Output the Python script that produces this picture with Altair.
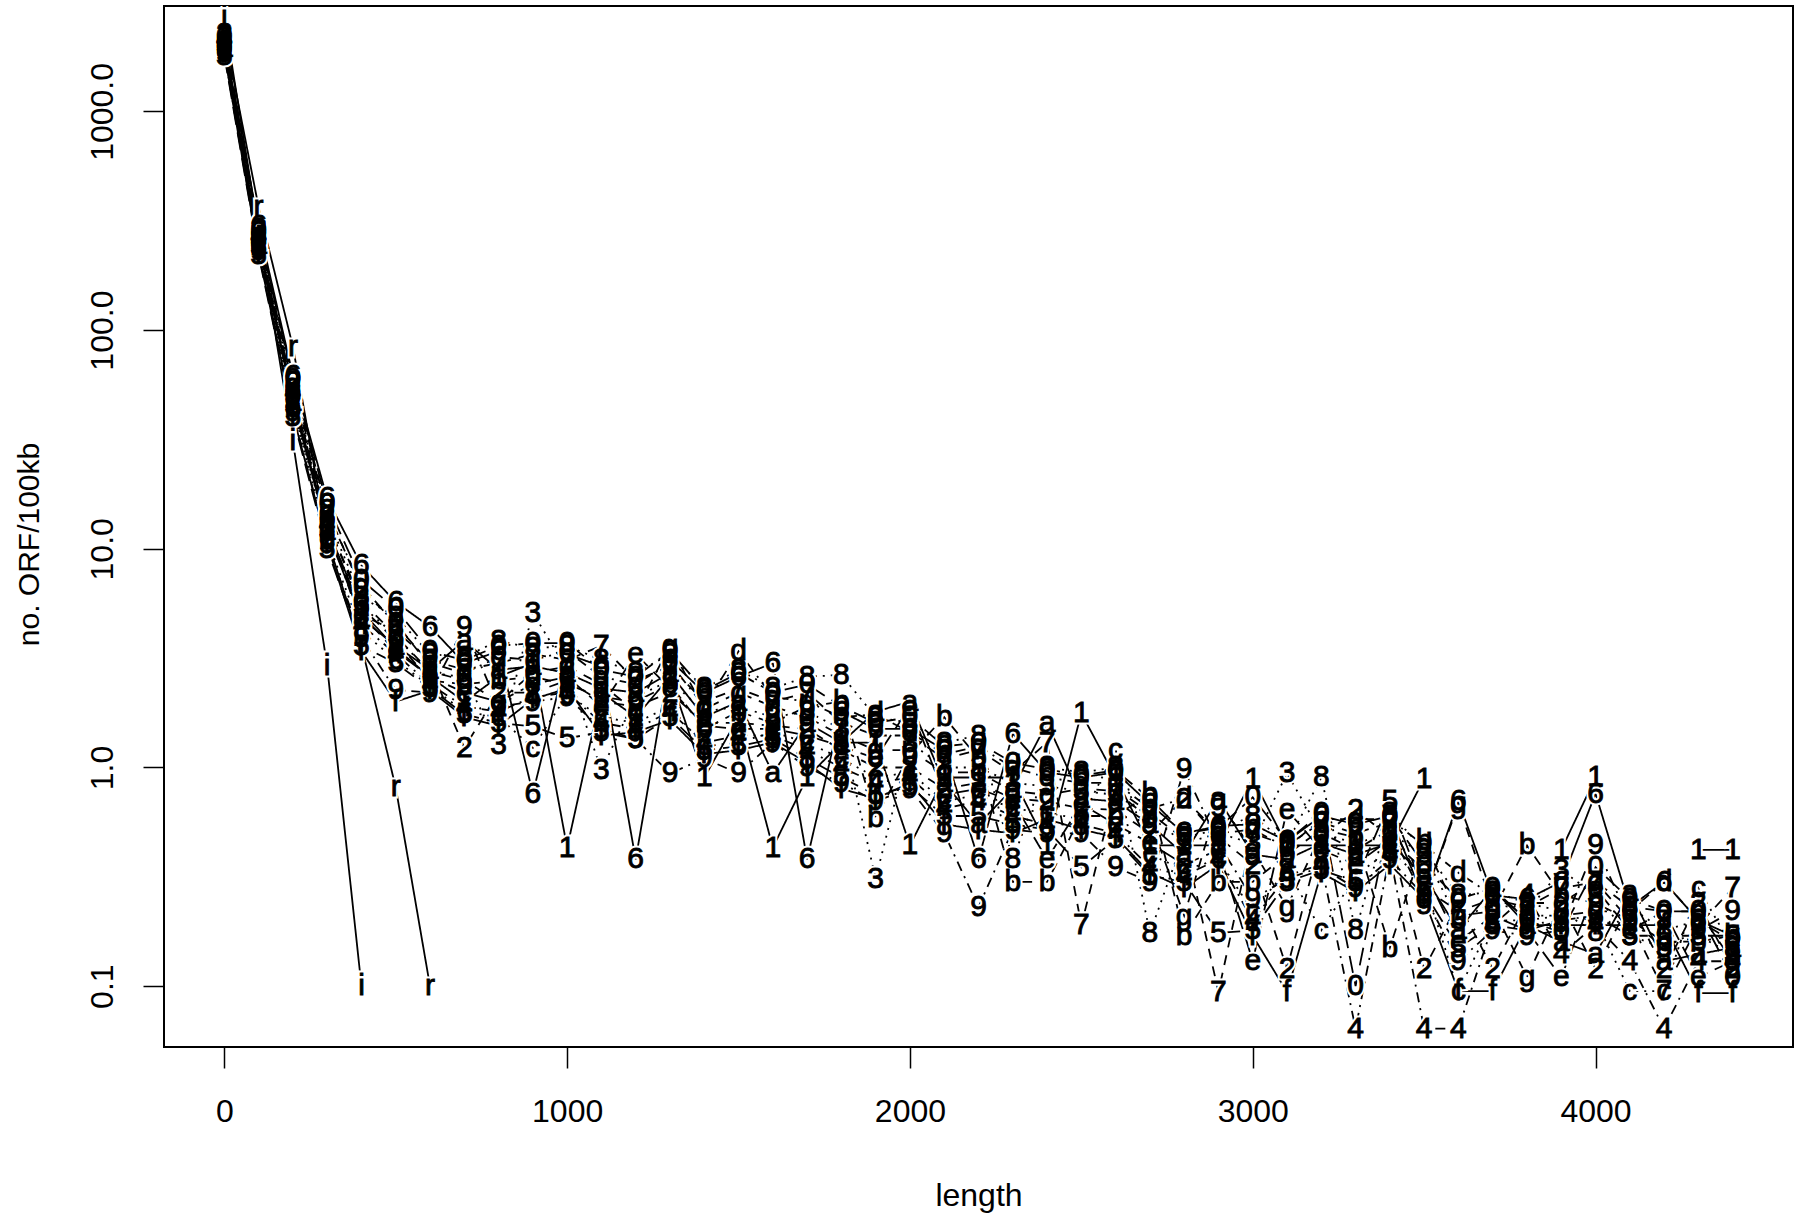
import altair as alt
import pandas as pd

# ORF length bins (x axis)
X_VALUES = [0, 100, 200, 300, 400, 500, 600, 700, 800, 900,
            1000, 1100, 1200, 1300, 1400, 1500, 1600, 1700, 1800, 1900,
            2000, 2100, 2200, 2300, 2400, 2500, 2600, 2700, 2800, 2900,
            3000, 3100, 3200, 3300, 3400, 3500, 3600, 3700, 3800, 3900,
            4000, 4100, 4200, 4300, 4400]

S1 = [1950, 255, 48, 12.5, 5.2, 3.5, 2.6, 2.0, 2.6, 3.0,
      0.43, 2.2, 1.7, 2.6, 0.9, 1.7, 0.43, 0.9, 1.3, 1.3,
      0.44, 0.9, 0.9, 0.9, 0.44, 1.77, 0.9, 0.44, 0.44, 0.44,
      0.89, 0.44, 0.44, 0.44, 0.44, 0.89, None, None, None, 0.42,
      0.9, None, None, 0.42, 0.42]
S2 = [2250, 290, 58, 15, 6.5, 4.6, 2.9, 1.23, 2.2, 2.2,
      2.5, 2.0, 1.9, 2.2, 1.6, 1.6, 1.55, 1.5, 1.2, 1.0,
      1.0, 0.8, 0.85, 0.72, 0.7, 0.65, 0.64, 0.5, 0.72, 0.48,
      0.36, 0.12, 0.48, 0.64, 0.48, 0.12, 0.24, 0.12, 0.24, 0.24,
      0.12, 0.24, 0.12, 0.24, 0.12]
S3 = [2000, 240, 45, 12, 5.5, 4.0, 2.7, 2.6, 1.27, 5.1,
      2.8, 0.97, 2.1, 2.5, 1.8, 1.9, 1.7, 1.8, 1.5, 0.31,
      1.3, 1.0, 1.0, 0.85, 0.82, 0.78, 0.75, 0.6, 0.45, 0.5,
      0.45, 0.94, 0.5, 0.45, 0.5, 0.4, 0.2, 0.24, 0.22, 0.34,
      0.26, 0.17, 0.15, 0.17, 0.14]
S4 = [2150, 270, 52, 13, 4.5, 3.3, 2.4, 1.9, 1.8, 2.1,
      2.2, 1.6, 1.5, 1.8, 1.3, 1.4, 1.4, 1.2, 1.0, 0.85,
      0.9, 0.65, 0.7, 0.6, 0.55, 0.55, 0.5, 0.35, 0.32, 0.38,
      0.2, 0.32, 0.36, 0.064, 0.4, 0.064, 0.064, 0.19, 0.26, 0.14,
      0.19, 0.13, 0.064, 0.13, 0.13]
S5 = [1800, 220, 40, 10, 3.6, 3.0, 2.3, 1.75, 1.6, 1.54,
      1.36, 1.45, 1.35, 1.7, 1.2, 1.25, 1.35, 1.1, 0.9, 0.75,
      0.82, 0.6, 0.6, 0.55, 0.52, 0.35, 0.47, 0.32, 0.3, 0.175,
      0.18, 0.3, 0.34, 0.3, 0.7, 0.27, 0.15, 0.19, 0.18, 0.2,
      0.21, 0.17, 0.17, 0.17, 0.17]
S6 = [2100, 300, 62, 17, 8.4, 5.7, 4.4, 3.0, 3.4, 0.76,
      3.3, 2.9, 0.38, 3.1, 2.2, 2.6, 3.0, 0.38, 1.8, 1.5,
      1.5, 1.2, 0.38, 1.43, 0.95, 0.9, 0.95, 0.68, 0.5, 0.54,
      0.55, 0.46, 0.6, 0.55, 0.6, 0.25, 0.7, 0.26, 0.25, 0.3,
      0.76, 0.23, 0.3, 0.2, 0.17]
S7 = [1900, 250, 50, 12.5, 5.0, 4.2, 3.1, 2.8, 3.0, 3.3,
      3.1, 3.6, 2.5, 2.9, 2.0, 2.3, 2.0, 2.2, 1.6, 1.4,
      1.4, 1.1, 1.2, 0.95, 1.3, 0.19, 0.8, 0.62, 0.47, 0.094,
      0.5, 0.44, 0.56, 0.5, 0.56, 0.28, 0.22, 0.25, 0.23, 0.28,
      0.3, 0.2, 0.095, 0.19, 0.28]
S8 = [2050, 260, 54, 14, 6.0, 4.9, 3.3, 3.2, 3.8, 3.5,
      3.6, 3.1, 2.7, 3.3, 2.3, 2.8, 2.3, 2.6, 2.65, 1.7,
      1.6, 1.3, 1.4, 0.38, 1.0, 0.95, 1.0, 0.175, 0.48, 0.52,
      0.6, 0.45, 0.9, 0.18, 0.62, 0.42, 0.26, 0.27, 0.24, 0.22,
      0.176, 0.23, 0.18, 0.2, 0.15]
S9 = [1850, 230, 42, 10.5, 3.9, 2.26, 2.2, 4.4, 1.9, 2.0,
      2.1, 1.5, 1.35, 0.94, 1.1, 0.94, 1.3, 1.0, 0.85, 0.7,
      0.8, 0.5, 0.23, 0.52, 0.5, 0.5, 0.35, 0.3, 0.98, 0.45,
      0.25, 0.31, 0.35, 0.28, 0.38, 0.26, 0.13, 0.18, 0.17, 0.18,
      0.44, 0.2, 0.15, 0.18, 0.22]
S0 = [2200, 280, 60, 16, 7.2, 5.3, 3.4, 3.1, 3.6, 3.7,
      3.7, 2.8, 2.6, 3.4, 2.25, 2.7, 2.2, 2.4, 1.9, 1.6,
      1.7, 1.25, 1.3, 1.05, 0.98, 0.92, 0.97, 0.72, 0.5, 0.53,
      0.73, 0.46, 0.62, 0.1, 0.6, 0.36, 0.25, 0.28, 0.2, 0.176,
      0.35, 0.25, 0.22, 0.22, 0.11]
SA = [1950, 245, 47, 12, 4.8, 3.6, 2.8, 3.8, 2.8, 2.9,
      2.7, 2.3, 2.2, 2.7, 1.7, 2.0, 0.94, 1.6, 1.3, 1.8,
      2.0, 0.85, 0.55, 0.8, 1.6, 0.72, 0.7, 0.55, 0.4, 0.72,
      0.4, 0.38, 0.45, 0.4, 0.45, 0.32, 0.18, 0.28, 0.19, 0.16,
      0.14, 0.27, 0.13, 0.14, 0.15]
SB = [2000, 265, 51, 13.5, 5.4, 3.8, 2.5, 2.4, 2.5, 2.6,
      2.4, 2.1, 2.0, 2.4, 1.5, 1.8, 1.6, 1.9, 2.0, 0.59,
      1.15, 1.7, 1.1, 0.3, 0.3, 0.6, 0.6, 0.76, 0.17, 0.3,
      0.3, 0.4, 0.52, 0.48, 0.15, 0.46, 0.21, 0.22, 0.44, 0.26,
      0.24, 0.2, 0.16, 0.16, 0.17]
SC = [1900, 235, 44, 11, 4.2, 3.1, 2.35, 1.8, 1.7, 1.23,
      2.15, 1.7, 1.6, 1.9, 1.25, 1.3, 1.45, 1.3, 1.1, 0.9,
      0.95, 0.7, 0.75, 0.65, 0.62, 0.58, 1.2, 0.4, 0.34, 0.38,
      0.22, 0.34, 0.18, 0.32, 0.42, 0.3, 0.095, 0.2, 0.2, 0.21,
      0.2, 0.095, 0.095, 0.28, 0.15]
SD = [2100, 275, 56, 14.5, 6.8, 4.5, 3.0, 2.7, 3.2, 3.1,
      3.4, 2.6, 2.4, 3.0, 1.9, 3.4, 2.1, 2.0, 1.7, 1.75,
      1.45, 1.15, 1.25, 1.0, 0.9, 0.85, 0.85, 0.65, 0.72, 0.5,
      0.52, 0.43, 0.58, 0.58, 0.58, 0.44, 0.33, 0.26, 0.21, 0.21,
      0.22, 0.22, 0.3, 0.2, 0.16]
SE = [2050, 250, 49, 12, 5.0, 3.4, 2.6, 2.2, 2.0, 2.4,
      2.6, 1.9, 3.3, 2.3, 1.55, 1.5, 1.5, 1.4, 1.25, 1.1,
      1.9, 0.75, 0.8, 0.7, 0.38, 0.68, 0.55, 0.45, 0.36, 0.42,
      0.13, 0.64, 0.42, 0.36, 0.47, 0.34, 0.16, 0.21, 0.18, 0.11,
      0.28, 0.18, 0.22, 0.11, 0.13]
SF = [1850, 225, 41, 10.5, 3.4, 2.0, 2.25, 1.7, 1.55, 2.05,
      2.3, 1.4, 1.45, 1.65, 1.15, 1.2, 1.3, 1.05, 0.8, 0.72,
      0.85, 0.55, 0.52, 0.5, 0.58, 0.52, 0.48, 0.33, 0.28, 0.36,
      0.17, 0.094, 0.33, 0.27, 0.36, 0.25, 0.095, 0.095, 0.19, 0.19,
      0.19, 0.19, 0.19, 0.093, 0.093]
SG = [2000, 255, 53, 13, 5.8, 4.0, 2.75, 2.5, 2.0, 2.7,
      2.9, 2.4, 1.8, 3.6, 1.85, 2.2, 1.9, 1.7, 1.4, 1.2,
      1.2, 0.95, 0.95, 0.78, 0.75, 0.8, 0.78, 0.58, 0.21, 0.7,
      0.42, 0.23, 0.5, 0.42, 0.52, 0.25, 0.68, 0.23, 0.11, 0.24,
      0.3, 0.23, 0.22, 0.22, 0.13]
SI = [2700, 280, 31, 2.9, 0.1]
SR = [2300, 365, 84, 11, 3.6, 0.81, 0.1]

LABELS = ["1", "2", "3", "4", "5", "6", "7", "8", "9", "0",
          "a", "b", "c", "d", "e", "f", "g", "i", "r"]
SERIES = [S1, S2, S3, S4, S5, S6, S7, S8, S9, S0,
          SA, SB, SC, SD, SE, SF, SG, SI, SR]
LINE_TYPES = ["solid", "dashed", "dotted", "dotdash", "longdash",
              "solid", "dashed", "dotted", "dotdash", "longdash",
              "solid", "dashed", "dotted", "dotdash", "longdash",
              "solid", "dashed", "solid", "solid"]
DASHES = {"solid": [1, 0], "dashed": [10, 8], "dotted": [2, 6],
          "dotdash": [2, 6, 10, 6], "longdash": [18, 8]}

rows = []
for lab, vals in zip(LABELS, SERIES):
    seg = 0
    for x, v in zip(X_VALUES, vals):
        if v is None:
            seg += 1
            continue
        rows.append({"length": x, "orf": v, "s": lab, "seg": f"{lab}_{seg}"})
df = pd.DataFrame(rows)

FONT = "Liberation Sans"
xscale = alt.Scale(domain=[-176, 4576], nice=False, zero=False)
yscale = alt.Scale(type="log", domain=[0.0527, 3034], nice=False)

xenc = alt.X("length:Q", scale=xscale,
             axis=alt.Axis(values=[0, 1000, 2000, 3000, 4000], format="d",
                           title="length", grid=False, domain=False,
                           tickSize=21, tickWidth=1.5, tickColor="black",
                           labelFontSize=32, labelFont=FONT, labelColor="black",
                           labelPadding=28, labelFlush=False,
                           titleFont=FONT, titleFontSize=32, titleFontWeight="normal",
                           titleColor="black", titlePadding=53))
yenc = alt.Y("orf:Q", scale=yscale,
             axis=alt.Axis(values=[0.1, 1, 10, 100, 1000], format=".1f",
                           title="no. ORF/100kb", grid=False, domain=False,
                           tickSize=21, tickWidth=1.5, tickColor="black",
                           labelFontSize=32, labelFont=FONT, labelColor="black",
                           labelAngle=270, labelAlign="center", labelBaseline="bottom",
                           labelPadding=24, labelFlush=False,
                           titleFont=FONT, titleFontSize=30, titleFontWeight="normal",
                           titleColor="black", titlePadding=42, titleY=538))

lines = alt.Chart(df).mark_line(color="black", strokeWidth=1.8, clip=True).encode(
    x=xenc, y=yenc,
    strokeDash=alt.StrokeDash("s:N", scale=alt.Scale(domain=LABELS,
                              range=[DASHES[t] for t in LINE_TYPES]), legend=None),
    detail="seg:N",
)

# white halo behind each plotting character, giving the gaps of an R type="b" plot
halos = alt.Chart(df).mark_text(font=FONT, fontSize=30, color="white", stroke="white",
                                strokeWidth=5, align="center", baseline="middle",
                                clip=True).encode(
    x=alt.X("length:Q", scale=xscale),
    y=alt.Y("orf:Q", scale=yscale),
    text="s:N",
)

texts = alt.Chart(df).mark_text(font=FONT, fontSize=30, color="black", stroke="black",
                                strokeWidth=0.9, align="center", baseline="middle",
                                clip=True).encode(
    x=alt.X("length:Q", scale=xscale),
    y=alt.Y("orf:Q", scale=yscale),
    text="s:N",
)

chart = alt.layer(lines, halos, texts).properties(
    width=1629, height=1041,
    autosize=alt.AutoSizeParams(type="none"),
    padding={"left": 164, "top": 6, "right": 7, "bottom": 167},
    background="white",
).configure_view(stroke="black", strokeWidth=2)

chart.save("out.html", embed_options={"renderer": "svg", "actions": False})
